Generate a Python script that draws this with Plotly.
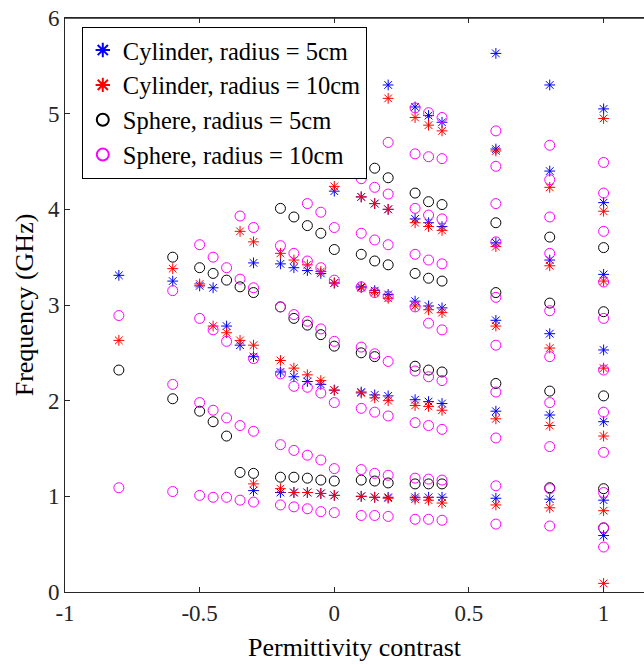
import plotly.graph_objects as go

# permittivity contrast values where modes were computed
contrast = [-0.8, -0.6, -0.5, -0.45, -0.4, -0.35, -0.3, -0.2, -0.15, -0.1, -0.05,
            0, 0.1, 0.15, 0.2, 0.3, 0.35, 0.4, 0.6, 0.8, 1.0]

# resonant frequencies (GHz) for each contrast value
cyl5_freq = [[3.31], [3.25], [3.20], [3.18], [2.78], [2.58], [3.44, 2.46, 1.06],
             [3.43, 2.30, 1.04], [3.39, 2.25, 1.04], [3.36, 2.20, 1.04], [3.33, 2.17, 1.03],
             [4.19, 3.23, 2.11, 1.01], [4.13, 3.19, 2.09, 1.00], [4.06, 3.15, 2.06, 0.99],
             [5.30, 4.00, 3.11, 2.05, 0.99], [5.07, 3.90, 3.04, 2.01, 0.99],
             [4.98, 3.86, 2.99, 1.99, 0.99], [4.91, 3.82, 2.97, 1.97, 0.99],
             [5.63, 4.63, 3.65, 2.84, 1.89, 0.98], [5.30, 4.40, 3.47, 2.70, 1.85, 0.97],
             [5.05, 4.07, 3.32, 2.53, 1.78, 0.96, 0.59]]

cyl10_freq = [[2.63], [3.38], [3.22], [2.78], [2.71], [3.77, 2.63], [3.66, 2.58, 1.13],
              [3.54, 2.42, 1.08], [3.47, 2.34, 1.04], [3.42, 2.27, 1.04],
              [4.42, 3.35, 2.21, 1.03], [4.24, 3.23, 2.11, 1.01], [4.13, 3.18, 2.08, 1.00],
              [4.06, 3.13, 2.03, 0.99], [5.16, 4.00, 3.07, 2.00, 0.98],
              [4.96, 3.86, 2.99, 1.95, 0.97], [4.88, 3.82, 2.95, 1.94, 0.96],
              [4.82, 3.78, 2.92, 1.90, 0.93], [4.61, 3.61, 2.78, 1.81, 0.91],
              [4.23, 3.41, 2.55, 1.74, 0.88], [4.95, 3.98, 3.25, 2.34, 1.63, 0.85, 0.09]]

sph5_freq = [[2.32], [3.50, 2.02], [3.39, 1.89], [3.33, 1.78], [3.26, 1.63], [3.19, 1.25],
             [3.13, 1.24], [4.01, 2.98, 1.20], [3.92, 2.86, 1.20], [3.83, 2.79, 1.19],
             [3.75, 2.69, 1.17], [3.58, 2.57, 1.16], [3.53, 2.50, 1.17],
             [4.43, 3.46, 2.46, 1.16], [4.33, 3.42, 1.14], [4.17, 3.33, 2.36, 1.13],
             [4.08, 3.28, 2.32, 1.13], [4.05, 3.25, 2.30, 1.13], [3.86, 3.13, 2.18],
             [3.71, 3.02, 2.10, 1.09], [3.60, 2.93, 2.05, 1.08, 0.67]]

sph10_freq = [[2.89, 1.09], [3.15, 2.17, 1.05], [3.63, 2.86, 1.98, 1.01],
              [3.50, 2.74, 1.90, 0.99], [3.39, 2.62, 1.82, 0.99], [3.93, 3.27, 1.74, 0.96],
              [3.81, 3.18, 2.44, 1.68, 0.94], [3.62, 2.98, 2.28, 1.54, 0.91],
              [3.54, 2.90, 2.15, 1.48, 0.89], [4.06, 3.46, 2.83, 2.14, 1.43, 0.87],
              [3.97, 3.39, 2.75, 2.08, 1.38, 0.84], [4.41, 3.81, 3.26, 2.62, 1.98, 1.29, 0.83],
              [4.32, 3.75, 3.19, 2.56, 1.92, 1.28, 0.80],
              [4.23, 3.68, 3.13, 2.49, 1.88, 1.24, 0.80],
              [4.70, 4.16, 3.63, 3.09, 2.41, 1.84, 1.22, 0.79],
              [5.06, 4.58, 4.01, 3.53, 2.98, 2.31, 1.77, 1.19, 0.76],
              [5.01, 4.55, 3.94, 3.47, 2.81, 2.25, 1.74, 1.18, 0.76],
              [4.96, 4.53, 3.90, 3.43, 2.74, 2.21, 1.70, 1.17, 0.75],
              [4.82, 4.45, 4.06, 3.66, 3.08, 2.58, 2.09, 1.61, 1.11, 0.71],
              [4.67, 4.31, 3.92, 3.54, 2.94, 2.46, 1.98, 1.52, 1.08, 0.69],
              [4.49, 4.17, 3.77, 3.24, 2.86, 2.32, 1.88, 1.46, 1.04, 0.67, 0.47]]

x_ticks = [-1, -0.5, 0, 0.5, 1]
y_ticks = [0, 1, 2, 3, 4, 5, 6]


def flatten(freqs):
    xs, ys = [], []
    for c, fl in zip(contrast, freqs):
        for f in fl:
            xs.append(c)
            ys.append(f)
    return xs, ys


series = [
    ('Cylinder, radius = 5cm', cyl5_freq, 'blue', 'asterisk-open', 9),
    ('Cylinder, radius = 10cm', cyl10_freq, 'red', 'asterisk-open', 9),
    ('Sphere, radius = 5cm', sph5_freq, 'black', 'circle-open', 10),
    ('Sphere, radius = 10cm', sph10_freq, 'magenta', 'circle-open', 10),
]

fig = go.Figure()
for name, freqs, color, symbol, size in series:
    xs, ys = flatten(freqs)
    fig.add_trace(go.Scatter(
        x=xs, y=ys, mode='markers', name=name,
        marker=dict(symbol=symbol, size=size, color=color,
                    line=dict(color=color, width=1)),
    ))

serif = 'Times New Roman, Liberation Serif, serif'
axis_font = dict(family=serif, size=23, color='#262626')
title_font = dict(family=serif, size=26, color='black')

fig.update_layout(
    width=644, height=665,
    margin=dict(l=65, r=0, t=18, b=73),
    plot_bgcolor='white', paper_bgcolor='white',
    font=dict(family=serif, size=23, color='black'),
    showlegend=True,
    legend=dict(x=0.029, y=0.985, xanchor='left', yanchor='top',
                bgcolor='white', bordercolor='black', borderwidth=1,
                font=dict(family=serif, size=24.5, color='black'),
                itemsizing='constant', tracegroupgap=0),
    xaxis=dict(range=[-1, 1.15], tickvals=x_ticks, ticktext=['-1', '-0.5', '0', '0.5', '1'],
               showgrid=False, zeroline=False, showline=True, linecolor='#262626', linewidth=1,
               ticks='inside', ticklen=5, tickcolor='#262626', mirror='ticks',
               tickfont=axis_font, automargin=False,
               title=dict(text='Permittivity contrast', font=title_font, standoff=13)),
    yaxis=dict(range=[0, 6], tickvals=y_ticks, showgrid=False, zeroline=False,
               showline=True, linecolor='#262626', linewidth=1,
               ticks='inside', ticklen=5, tickcolor='#262626',
               tickfont=axis_font, automargin=False,
               title=dict(text='Frequency (GHz)', font=title_font, standoff=6)),
)

# top frame line (the right side of the box is cropped off in the original)
fig.add_shape(type='line', xref='paper', yref='paper', x0=0, x1=1, y0=1, y1=1,
              line=dict(color='#262626', width=1.5), layer='above')

# the page body has a default 8px margin; drop it so the figure fills the window
fig.write_html('out.html', config={'displayModeBar': False},
               post_script="document.body.style.margin='0';document.body.style.overflow='hidden';")
